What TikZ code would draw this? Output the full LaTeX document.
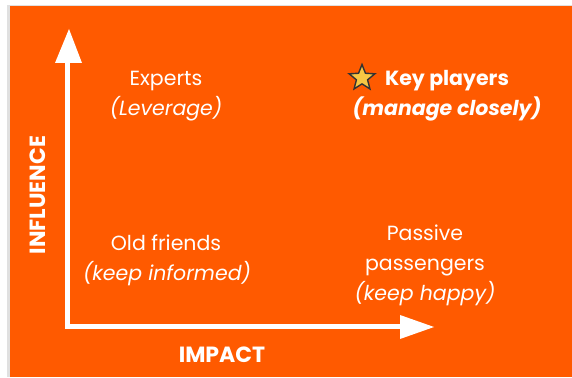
\documentclass[tikz,border=0pt]{standalone}
\usepackage{fontspec}
\setmainfont{Poppins}
\usetikzlibrary{shapes.geometric}
\definecolor{bgorange}{HTML}{FF5A00}
\definecolor{staryellow}{HTML}{F7C744}
\begin{document}
\begin{tikzpicture}[x=1pt,y=1pt,
  lbl/.style={text=white,font=\fontsize{20.5}{24}\selectfont,inner sep=0pt,anchor=base},
  axislbl/.style={text=white,font=\bfseries\fontsize{22}{24}\selectfont,inner sep=0pt},
  axisline/.style={draw=white,line width=5pt},
  tip/.style={fill=white}]
\useasboundingbox (0,0) rectangle (572,377);
\fill[white] (0,0) rectangle (572,377);
\fill[black!12] (7,0) rectangle (572,372);
\fill[bgorange] (10,0) rectangle (572,371);
% axes
\coordinate (origin) at (67,50);
\coordinate (ytop) at (67,314);
\coordinate (xend) at (402,50);
\draw[axisline] (ytop) -- (origin) -- (xend);
\fill[tip] (55,314) -- (69,348) -- (82,314) -- cycle;
\fill[tip] (400,38) -- (434,50) -- (400,62) -- cycle;
% labels
\node[axislbl,rotate=90] (infl) at (38,182) {INFLUENCE};
\node[axislbl] (imp) at (222,22) {IMPACT};
\node[lbl] (experts) at (166,291) {Experts};
\node[lbl] (lev) at (166,261) {\itshape(Leverage)};
\node[lbl] (key) at (447,291) {\bfseries Key players};
\node[lbl] (man) at (447,261) {\bfseries\itshape(manage closely)};
\node[star,star points=5,star point ratio=2.3,minimum size=27pt,inner sep=0pt,draw=black!80,line width=1.4pt,fill=staryellow] (star) at (362,299) {};
\node[lbl] (old) at (166,126) {Old friends};
\node[lbl] (inf) at (167,96) {\itshape(keep informed)};
\node[lbl] (pass) at (425,136) {Passive};
\node[lbl] (pass2) at (425,106) {passengers};
\node[lbl] (happy) at (425,76) {\itshape(keep happy)};
\end{tikzpicture}
\end{document}
